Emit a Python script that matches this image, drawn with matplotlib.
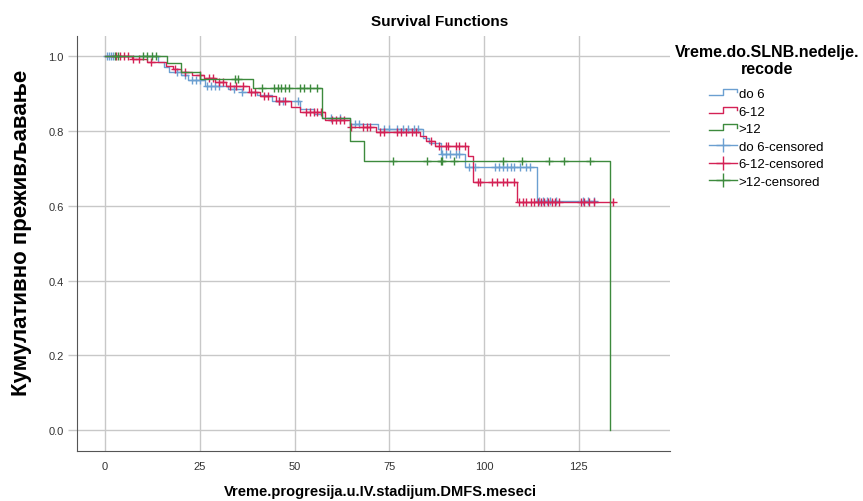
import matplotlib.pyplot as plt
import numpy as np
from matplotlib.lines import Line2D
from matplotlib.legend_handler import HandlerBase

plt.rcParams['font.family'] = ['Liberation Sans', 'DejaVu Sans']

# Kaplan-Meier step data (time in months, survival)
do6_t = [0, 14, 15.5, 17, 20, 22, 26.4, 32.5, 36, 40, 44, 51.5, 55, 57.3, 64.7, 72, 84, 85.5, 88.5, 95, 114]
do6_s = [1.0, 0.985, 0.970, 0.957, 0.949, 0.936, 0.921, 0.912, 0.903, 0.895, 0.880, 0.858, 0.845, 0.835, 0.818, 0.805, 0.780, 0.767, 0.738, 0.703, 0.612]
do6_end = 129
do6_cens = [0.5, 1, 1.5, 2, 19, 21, 23, 24, 25, 27, 28, 29, 30, 34, 36, 46, 47, 51, 59.5, 62, 66, 67,
            73.5, 75, 77, 78.5, 80, 81.4, 82.5, 89, 90, 91, 92.5, 93.5, 96, 97.5, 103, 104, 105, 106,
            107, 108, 109.5, 111, 112, 114.5, 115.5, 116.5, 117.5, 119, 126, 127.5, 129]

r612_t = [0, 7, 11, 16, 18, 20, 23, 26, 29, 32, 38, 41, 45, 49, 51.5, 58, 64.7, 71.4, 83, 84.6, 87, 95.7, 97.2, 108.8]
r612_s = [1.0, 0.992, 0.984, 0.975, 0.966, 0.958, 0.950, 0.941, 0.932, 0.920, 0.905, 0.893, 0.880, 0.864, 0.850, 0.829, 0.810, 0.797, 0.786, 0.774, 0.760, 0.733, 0.663, 0.610]
r612_end = 134
r612_cens = [3, 4, 5, 6, 7.5, 9, 12, 18.5, 21, 25, 27.5, 28.5, 30, 31, 33, 34.5, 36.5, 38.5, 39.5, 42, 43,
             46, 47.5, 53, 54, 55, 56, 57, 60, 61, 62, 63, 65, 68, 69, 70, 72.5, 73.5, 77, 78, 79.5, 81, 82,
             86, 88, 90, 90.6, 92.5, 93.3, 95, 98.3, 99, 102, 103.5, 105, 106, 108, 109.2, 110.2, 111,
             112.4, 113.2, 114.2, 115, 115.8, 116.8, 118, 118.8, 119.7, 125.5, 126.3, 127.6, 129, 134]

g12_t = [0, 16.4, 20, 25, 39, 57.3, 64.7, 68.2, 133.2]
g12_s = [1.0, 0.983, 0.958, 0.940, 0.915, 0.835, 0.773, 0.719, 0.0]
g12_end = 133.2
g12_cens = [2.5, 3.5, 10, 11, 12.5, 13.5, 34.4, 35.1, 41.5, 44.5, 45.5, 46.5, 47.5, 48.5, 51.5, 52.5,
            54, 56, 76, 85, 88.5, 89, 92, 105, 110, 117, 121, 128]

groups = ['do 6', '6-12', '>12']
colors = ['#6b9fd1', '#d42155', '#3d8a3d']
series = [(do6_t, do6_s, do6_end, do6_cens),
          (r612_t, r612_s, r612_end, r612_cens),
          (g12_t, g12_s, g12_end, g12_cens)]


class StepHandler(HandlerBase):
    def create_artists(self, legend, orig_handle, xdescent, ydescent, width, height, fontsize, trans):
        xs = np.array([0, 0.5, 0.5, 1.0, 1.0]) * width - xdescent
        ys = np.array([0.2, 0.2, 0.85, 0.85, 0.5]) * height - ydescent
        ln = Line2D(xs, ys, color=orig_handle.get_color(), lw=1, transform=trans)
        return [ln]


fig = plt.figure(figsize=(8.63, 5.02), dpi=100)
ax = fig.add_axes([0.0892, 0.0996, 0.687, 0.826])

for (t, s, end, cens), col in zip(series, colors):
    tt = list(t) + [end]
    ss = list(s) + [s[-1]]
    ax.step(tt, ss, where='post', color=col, lw=1)
    idx = np.searchsorted(t, cens, side='right') - 1
    cy = np.array(s)[idx]
    ax.plot(cens, cy, '+', color=col, ms=6, mew=1)

ax.set_xlim(-7.4, 149)
ax.set_ylim(-0.056, 1.053)
ax.set_xticks([0, 25, 50, 75, 100, 125])
ax.set_yticks([0.0, 0.2, 0.4, 0.6, 0.8, 1.0])
ax.set_yticklabels(['0.0', '0.2', '0.4', '0.6', '0.8', '1.0'])
ax.tick_params(axis='x', length=0, labelsize=8, colors='#333333', pad=7)
ax.tick_params(axis='y', length=6.5, width=1, labelsize=8, colors='#c8c8c8', labelcolor='#333333', pad=3)
ax.grid(True, color='#c8c8c8', lw=1)
ax.set_axisbelow(True)
for sp in ['top', 'right']:
    ax.spines[sp].set_visible(False)
for sp in ['left', 'bottom']:
    ax.spines[sp].set_color('#555555')

fig.text(380 / 863, 1 - 492 / 502, 'Vreme.progresija.u.IV.stadijum.DMFS.meseci',
         ha='center', va='center', fontsize=10.5, fontweight='bold')
fig.text(22 / 863, 1 - 233 / 502, 'Кумулативно преживљавање', rotation=90,
         ha='center', va='center', fontsize=16, fontweight='bold')
fig.text(440 / 863, 1 - 22 / 502, 'Survival Functions', ha='center', va='center', fontsize=11, fontweight='bold')
fig.text(767 / 863, 1 - 61 / 502, 'Vreme.do.SLNB.nedelje.\nrecode', ha='center', va='center',
         multialignment='center', fontsize=11.5, fontweight='bold', linespacing=1.1)

handles = [Line2D([], [], color=c) for c in colors]
handles += [Line2D([], [], color=c, lw=1, marker='+', ms=10, mew=1) for c in colors]
labels = groups + [g + '-censored' for g in groups]
hmap = {h: StepHandler() for h in handles[:3]}
leg = fig.legend(handles, labels, loc='upper left', bbox_to_anchor=(697 / 863, 1 - 77 / 502),
                 frameon=False, fontsize=9.5, handlelength=2.1, handletextpad=0.15, labelspacing=0.4,
                 handler_map=hmap)

plt.savefig('out.png', dpi=100)
